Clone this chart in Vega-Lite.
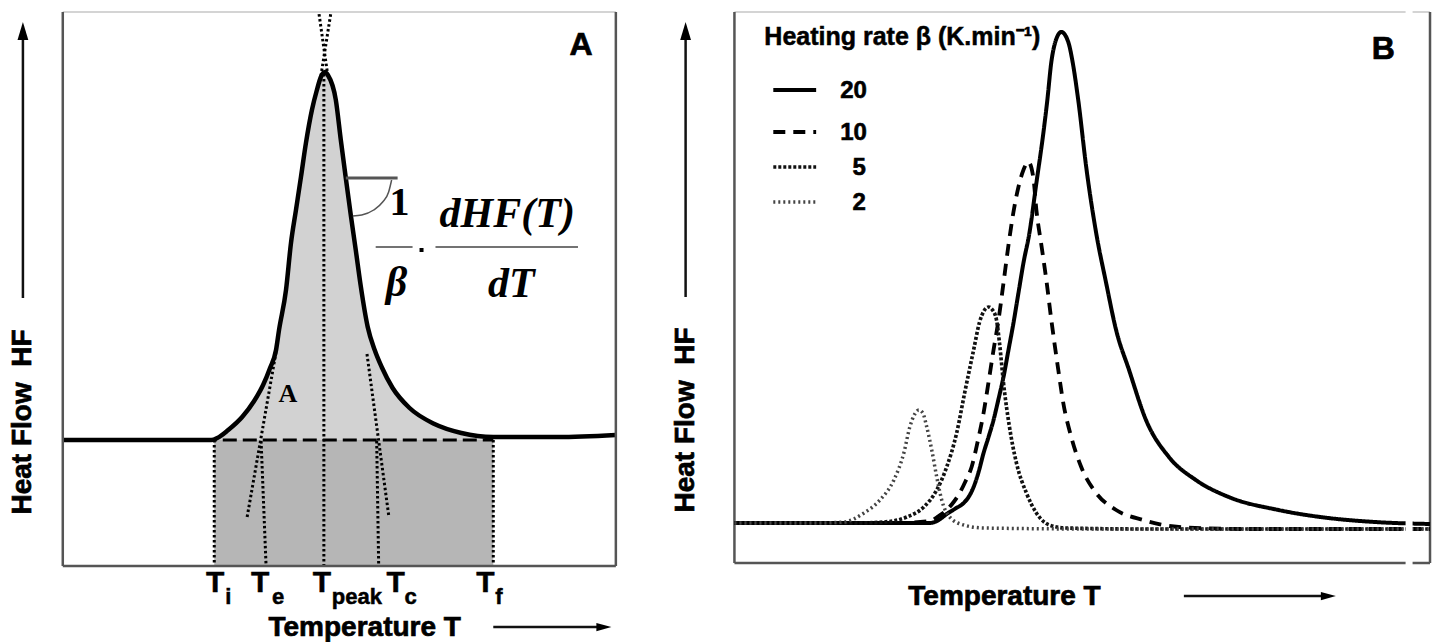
{
  "$schema": "https://vega.github.io/schema/vega-lite/v6.json",
  "width": 1438,
  "height": 642,
  "autosize": {"type": "fit", "contains": "padding"},
  "padding": 0,
  "background": "white",
  "config": {"view": {"stroke": null}},
  "datasets": {
    "curveA": [
      {"x":63,"y":440},{"x":150,"y":440},{"x":212,"y":440},{"x":218,"y":438},{"x":229,"y":430},{"x":243,"y":417},{"x":255,"y":401},{"x":264,"y":385},{"x":271,"y":368},{"x":277,"y":350},{"x":280,"y":330},{"x":287,"y":290},{"x":292,"y":243},{"x":297,"y":210},{"x":302,"y":177},{"x":307,"y":143},{"x":313,"y":110},{"x":318,"y":90},{"x":322,"y":77},{"x":326,"y":72},
      {"x":329,"y":75},{"x":337,"y":100},{"x":342,"y":140},{"x":347,"y":178},{"x":352,"y":215},{"x":357,"y":250},{"x":362,"y":286},{"x":369,"y":327},{"x":376,"y":350},{"x":383,"y":367},{"x":394,"y":388},{"x":411,"y":408},{"x":436,"y":424},{"x":463,"y":433},{"x":495,"y":437},{"x":560,"y":437},{"x":618,"y":435}
    ],
    "rectA": [{"x":215,"x2":495,"y":440,"y2":566}],
    "dotA": [
      {"x":215,"y":440,"x2":215,"y2":566},
      {"x":262,"y":441,"x2":267,"y2":566},
      {"x":248,"y":517,"x2":277,"y2":352},
      {"x":325,"y":74,"x2":325,"y2":566},
      {"x":378,"y":441,"x2":380,"y2":566},
      {"x":390,"y":515,"x2":368,"y2":352},
      {"x":495,"y":440,"x2":495,"y2":566},
      {"x":322,"y":76,"x2":332,"y2":13},
      {"x":329,"y":76,"x2":320,"y2":13}
    ],
    "baseA": [{"x":63,"y":440,"x2":495,"y2":440}],
    "tangentA": [{"x":347,"y":178,"x2":399,"y2":178}],
    "arcA": [{"x":393,"y":180},{"x":390,"y":192},{"x":384,"y":202},{"x":375,"y":210},{"x":363,"y":215},{"x":354,"y":216}],
    "fracBars": [{"x":377,"y":247,"x2":414,"y2":247},{"x":437,"y":247,"x2":580,"y2":247}],
    "dot": [{"x":423,"y":250}],
    "frameDark": [
      {"x":63,"y":12,"x2":63,"y2":566},{"x":63,"y":566,"x2":618,"y2":566},{"x":618,"y":12,"x2":618,"y2":566},
      {"x":737,"y":12,"x2":737,"y2":563},{"x":737,"y":563,"x2":1435,"y2":563},{"x":1435,"y":12,"x2":1435,"y2":563}
    ],
    "frameLight": [{"x":63,"y":12,"x2":618,"y2":12},{"x":737,"y":12,"x2":1435,"y2":12}],
    "gap": [{"x":1414,"y":4,"x2":1414,"y2":572}],
    "curvesB": [
      {"rate":"20","x":737,"y":523},{"rate":"20","x":850,"y":523},{"rate":"20","x":933,"y":523},{"rate":"20","x":942,"y":520},{"rate":"20","x":950,"y":514},{"rate":"20","x":958,"y":509},{"rate":"20","x":967,"y":503},{"rate":"20","x":972,"y":497},{"rate":"20","x":977,"y":487},{"rate":"20","x":982,"y":472},{"rate":"20","x":987,"y":453},{"rate":"20","x":992,"y":437},{"rate":"20","x":997,"y":420},{"rate":"20","x":1002,"y":399},{"rate":"20","x":1007,"y":377},{"rate":"20","x":1012,"y":350},{"rate":"20","x":1017,"y":323},{"rate":"20","x":1022,"y":293},{"rate":"20","x":1027,"y":263},{"rate":"20","x":1033,"y":233},{"rate":"20","x":1040,"y":183},{"rate":"20","x":1047,"y":133},{"rate":"20","x":1051,"y":100},{"rate":"20","x":1055,"y":62},{"rate":"20","x":1059,"y":42},{"rate":"20","x":1065,"y":32},{"rate":"20","x":1072,"y":42},{"rate":"20","x":1076,"y":60},{"rate":"20","x":1082,"y":100},{"rate":"20","x":1090,"y":167},{"rate":"20","x":1100,"y":233},{"rate":"20","x":1110,"y":283},{"rate":"20","x":1120,"y":330},{"rate":"20","x":1133,"y":370},{"rate":"20","x":1150,"y":420},{"rate":"20","x":1173,"y":457},{"rate":"20","x":1200,"y":480},{"rate":"20","x":1233,"y":497},{"rate":"20","x":1283,"y":510},{"rate":"20","x":1333,"y":518},{"rate":"20","x":1380,"y":522},{"rate":"20","x":1435,"y":524},
      {"rate":"10","x":737,"y":523},{"rate":"10","x":900,"y":523},{"rate":"10","x":933,"y":521},{"rate":"10","x":942,"y":516},{"rate":"10","x":950,"y":510},{"rate":"10","x":957,"y":502},{"rate":"10","x":963,"y":493},{"rate":"10","x":969,"y":481},{"rate":"10","x":975,"y":467},{"rate":"10","x":981,"y":442},{"rate":"10","x":987,"y":413},{"rate":"10","x":992,"y":382},{"rate":"10","x":997,"y":350},{"rate":"10","x":1002,"y":320},{"rate":"10","x":1007,"y":283},{"rate":"10","x":1012,"y":245},{"rate":"10","x":1017,"y":212},{"rate":"10","x":1022,"y":187},{"rate":"10","x":1027,"y":170},{"rate":"10","x":1032,"y":162},{"rate":"10","x":1037,"y":178},{"rate":"10","x":1040,"y":210},{"rate":"10","x":1045,"y":245},{"rate":"10","x":1050,"y":280},{"rate":"10","x":1055,"y":320},{"rate":"10","x":1062,"y":370},{"rate":"10","x":1067,"y":403},{"rate":"10","x":1075,"y":437},{"rate":"10","x":1085,"y":467},{"rate":"10","x":1100,"y":493},{"rate":"10","x":1120,"y":510},{"rate":"10","x":1147,"y":520},{"rate":"10","x":1183,"y":527},{"rate":"10","x":1250,"y":529},{"rate":"10","x":1435,"y":529},
      {"rate":"5","x":737,"y":523},{"rate":"5","x":860,"y":523},{"rate":"5","x":887,"y":522},{"rate":"5","x":910,"y":517},{"rate":"5","x":927,"y":507},{"rate":"5","x":940,"y":490},{"rate":"5","x":950,"y":467},{"rate":"5","x":960,"y":433},{"rate":"5","x":968,"y":393},{"rate":"5","x":977,"y":350},{"rate":"5","x":983,"y":322},{"rate":"5","x":988,"y":310},{"rate":"5","x":992,"y":307},{"rate":"5","x":996,"y":310},{"rate":"5","x":1000,"y":320},{"rate":"5","x":1003,"y":343},{"rate":"5","x":1007,"y":383},{"rate":"5","x":1013,"y":427},{"rate":"5","x":1020,"y":463},{"rate":"5","x":1030,"y":493},{"rate":"5","x":1040,"y":513},{"rate":"5","x":1053,"y":525},{"rate":"5","x":1070,"y":528},{"rate":"5","x":1150,"y":529},{"rate":"5","x":1435,"y":529},
      {"rate":"2","x":737,"y":523},{"rate":"2","x":800,"y":523},{"rate":"2","x":820,"y":523},{"rate":"2","x":847,"y":522},{"rate":"2","x":867,"y":513},{"rate":"2","x":883,"y":500},{"rate":"2","x":897,"y":480},{"rate":"2","x":907,"y":453},{"rate":"2","x":913,"y":427},{"rate":"2","x":918,"y":414},{"rate":"2","x":922,"y":410},{"rate":"2","x":926,"y":413},{"rate":"2","x":930,"y":427},{"rate":"2","x":935,"y":450},{"rate":"2","x":940,"y":477},{"rate":"2","x":945,"y":500},{"rate":"2","x":953,"y":517},{"rate":"2","x":967,"y":525},{"rate":"2","x":987,"y":528},{"rate":"2","x":1100,"y":529},{"rate":"2","x":1435,"y":529}
    ],
    "legendLines": [
      {"rate":"20","x":776,"x2":819,"y":90},
      {"rate":"10","x":776,"x2":819,"y":132},
      {"rate":"5","x":776,"x2":819,"y":167},
      {"rate":"2","x":776,"x2":819,"y":202}
    ],
    "legendLabels": [
      {"text":"20","x":870,"y":91},
      {"text":"10","x":870,"y":133},
      {"text":"5","x":869,"y":168},
      {"text":"2","x":869,"y":203}
    ],
    "legendTitle": [{"x":767,"y":37,"text":"Heating rate β (K.min⁻¹)"}],
    "arrowShafts": [
      {"x":23,"y":298,"x2":23,"y2":36},
      {"x":688,"y":297,"x2":688,"y2":36},
      {"x":495,"y":627,"x2":600,"y2":627},
      {"x":1188,"y":596,"x2":1326,"y2":596}
    ],
    "arrowUp": [{"x":23,"y":31},{"x":688,"y":31}],
    "arrowRight": [{"x":606,"y":627},{"x":1333,"y":596}],
    "titlesH": [{"x":366,"y":628,"text":"Temperature T"},{"x":1008,"y":597,"text":"Temperature T"}],
    "titlesV": [{"x":23,"y":422,"text":"Heat Flow\u00a0\u00a0HF"},{"x":688,"y":420,"text":"Heat Flow\u00a0\u00a0HF"}],
    "panelLabels": [{"x":583,"y":45,"text":"A"},{"x":1388,"y":49,"text":"B"}],
    "tLabels": [{"x":216,"y":583,"text":"T"},{"x":261,"y":583,"text":"T"},{"x":323,"y":583,"text":"T"},{"x":397,"y":583,"text":"T"},{"x":487,"y":583,"text":"T"}],
    "tSubs": [{"x":226,"y":597,"text":"i"},{"x":273,"y":597,"text":"e"},{"x":333,"y":597,"text":"peak"},{"x":406,"y":597,"text":"c"},{"x":497,"y":597,"text":"f"}],
    "serifA": [{"x":289,"y":394,"text":"A"}],
    "formulaUp": [{"x":401,"y":203,"text":"1"}],
    "formulaIt": [{"x":398,"y":283,"text":"β"},{"x":509,"y":214,"text":"dHF(T)"},{"x":513,"y":284,"text":"dT"}]
  },
  "encoding": {
    "x": {"field": "x", "type": "quantitative", "scale": {"domain": [0, 1438], "nice": false, "zero": false}, "axis": null},
    "y": {"field": "y", "type": "quantitative", "scale": {"domain": [642, 0], "nice": false, "zero": false}, "axis": null}
  },
  "layer": [
    {"data": {"name": "rectA"}, "mark": {"type": "rect", "fill": "#b6b6b6"},
     "encoding": {"x2": {"field": "x2"}, "y2": {"field": "y2"}}},
    {"data": {"name": "curveA"}, "transform": [{"filter": "datum.x >= 212 && datum.x <= 496"}],
     "mark": {"type": "area", "fill": "#d2d2d2", "interpolate": "monotone"},
     "encoding": {"y2": {"datum": 440}}},
    {"data": {"name": "dotA"}, "mark": {"type": "rule", "color": "#000", "strokeWidth": 3, "strokeDash": [2.5, 2.5]},
     "encoding": {"x2": {"field": "x2"}, "y2": {"field": "y2"}}},
    {"data": {"name": "baseA"}, "mark": {"type": "rule", "color": "#000", "strokeWidth": 3, "strokeDash": [14, 6]},
     "encoding": {"x2": {"field": "x2"}, "y2": {"field": "y2"}}},
    {"data": {"name": "curveA"}, "mark": {"type": "line", "color": "#000", "strokeWidth": 4.5, "interpolate": "monotone"}, "encoding": {}},
    {"data": {"name": "tangentA"}, "mark": {"type": "rule", "color": "#555", "strokeWidth": 3},
     "encoding": {"x2": {"field": "x2"}, "y2": {"field": "y2"}}},
    {"data": {"name": "arcA"}, "mark": {"type": "line", "color": "#555", "strokeWidth": 1.5, "interpolate": "monotone"}, "encoding": {}},
    {"data": {"name": "fracBars"}, "mark": {"type": "rule", "color": "#444", "strokeWidth": 1.5},
     "encoding": {"x2": {"field": "x2"}, "y2": {"field": "y2"}}},
    {"data": {"name": "dot"}, "mark": {"type": "point", "shape": "square", "filled": true, "size": 16, "color": "#000", "opacity": 1}},
    {"data": {"name": "frameLight"}, "mark": {"type": "rule", "color": "#d4d4d4", "strokeWidth": 2},
     "encoding": {"x2": {"field": "x2"}, "y2": {"field": "y2"}}},
    {"data": {"name": "frameDark"}, "mark": {"type": "rule", "color": "#555", "strokeWidth": 2.5},
     "encoding": {"x2": {"field": "x2"}, "y2": {"field": "y2"}}},
    {"data": {"name": "curvesB"}, "mark": {"type": "line", "interpolate": "monotone"},
     "encoding": {
       "detail": {"field": "rate", "type": "nominal"},
       "strokeDash": {"field": "rate", "type": "nominal", "scale": {"domain": ["20", "10", "5", "2"], "range": [[1, 0], [12, 8], [3, 2], [2, 3]]}, "legend": null},
       "strokeWidth": {"field": "rate", "type": "nominal", "scale": {"domain": ["20", "10", "5", "2"], "range": [4, 3.5, 3.5, 2.5]}, "legend": null},
       "color": {"field": "rate", "type": "nominal", "scale": {"domain": ["20", "10", "5", "2"], "range": ["#000000", "#000000", "#111111", "#444444"]}, "legend": null}
     }},
    {"data": {"name": "gap"}, "mark": {"type": "rule", "color": "#ffffff", "strokeWidth": 7},
     "encoding": {"x2": {"field": "x2"}, "y2": {"field": "y2"}}},
    {"data": {"name": "legendLines"}, "mark": {"type": "rule"},
     "encoding": {
       "x2": {"field": "x2"},
       "strokeDash": {"field": "rate", "type": "nominal", "scale": {"domain": ["20", "10", "5", "2"], "range": [[1, 0], [12, 8], [3, 2], [2, 3]]}, "legend": null},
       "strokeWidth": {"field": "rate", "type": "nominal", "scale": {"domain": ["20", "10", "5", "2"], "range": [4, 3.5, 3.5, 2.5]}, "legend": null},
       "color": {"field": "rate", "type": "nominal", "scale": {"domain": ["20", "10", "5", "2"], "range": ["#000000", "#000000", "#111111", "#444444"]}, "legend": null}
     }},
    {"data": {"name": "arrowShafts"}, "mark": {"type": "rule", "color": "#111", "strokeWidth": 2.5},
     "encoding": {"x2": {"field": "x2"}, "y2": {"field": "y2"}}},
    {"data": {"name": "arrowUp"}, "mark": {"type": "point", "shape": "M0,-1L0.6,1L-0.6,1Z", "filled": true, "size": 324, "color": "#000", "opacity": 1}},
    {"data": {"name": "arrowRight"}, "mark": {"type": "point", "shape": "M1,0L-1,-0.55L-1,0.55Z", "filled": true, "size": 225, "color": "#000", "opacity": 1}},
    {"data": {"name": "titlesH"}, "mark": {"type": "text", "font": "Liberation Sans", "fontWeight": "bold", "fontSize": 28, "align": "center", "baseline": "middle", "color": "#000", "stroke": "#000", "strokeWidth": 0.7},
     "encoding": {"text": {"field": "text"}}},
    {"data": {"name": "titlesV"}, "mark": {"type": "text", "font": "Liberation Sans", "fontWeight": "bold", "fontSize": 28, "align": "center", "baseline": "middle", "angle": 270, "color": "#000", "stroke": "#000", "strokeWidth": 0.7},
     "encoding": {"text": {"field": "text"}}},
    {"data": {"name": "panelLabels"}, "mark": {"type": "text", "font": "Liberation Sans", "fontWeight": "bold", "fontSize": 32, "align": "center", "baseline": "middle", "color": "#000", "stroke": "#000", "strokeWidth": 0.7},
     "encoding": {"text": {"field": "text"}}},
    {"data": {"name": "tLabels"}, "mark": {"type": "text", "font": "Liberation Sans", "fontWeight": "bold", "fontSize": 30, "align": "center", "baseline": "middle", "color": "#000", "stroke": "#000", "strokeWidth": 0.5},
     "encoding": {"text": {"field": "text"}}},
    {"data": {"name": "tSubs"}, "mark": {"type": "text", "font": "Liberation Sans", "fontWeight": "bold", "fontSize": 22, "align": "left", "baseline": "middle", "color": "#000", "stroke": "#000", "strokeWidth": 0.5},
     "encoding": {"text": {"field": "text"}}},
    {"data": {"name": "serifA"}, "mark": {"type": "text", "font": "Liberation Serif", "fontWeight": "bold", "fontSize": 26, "align": "center", "baseline": "middle", "color": "#000"},
     "encoding": {"text": {"field": "text"}}},
    {"data": {"name": "formulaUp"}, "mark": {"type": "text", "font": "Liberation Serif", "fontWeight": "bold", "fontSize": 40, "align": "center", "baseline": "middle", "color": "#000"},
     "encoding": {"text": {"field": "text"}}},
    {"data": {"name": "formulaIt"}, "mark": {"type": "text", "font": "Liberation Serif", "fontWeight": "bold", "fontStyle": "italic", "fontSize": 42, "align": "center", "baseline": "middle", "color": "#000"},
     "encoding": {"text": {"field": "text"}}},
    {"data": {"name": "legendTitle"}, "mark": {"type": "text", "font": "Liberation Sans", "fontWeight": "bold", "fontSize": 25, "align": "left", "baseline": "middle", "color": "#000", "stroke": "#000", "strokeWidth": 0.5},
     "encoding": {"text": {"field": "text"}}},
    {"data": {"name": "legendLabels"}, "mark": {"type": "text", "font": "Liberation Sans", "fontWeight": "bold", "fontSize": 24, "align": "right", "baseline": "middle", "color": "#000", "stroke": "#000", "strokeWidth": 0.6},
     "encoding": {"text": {"field": "text"}}}
  ]
}
